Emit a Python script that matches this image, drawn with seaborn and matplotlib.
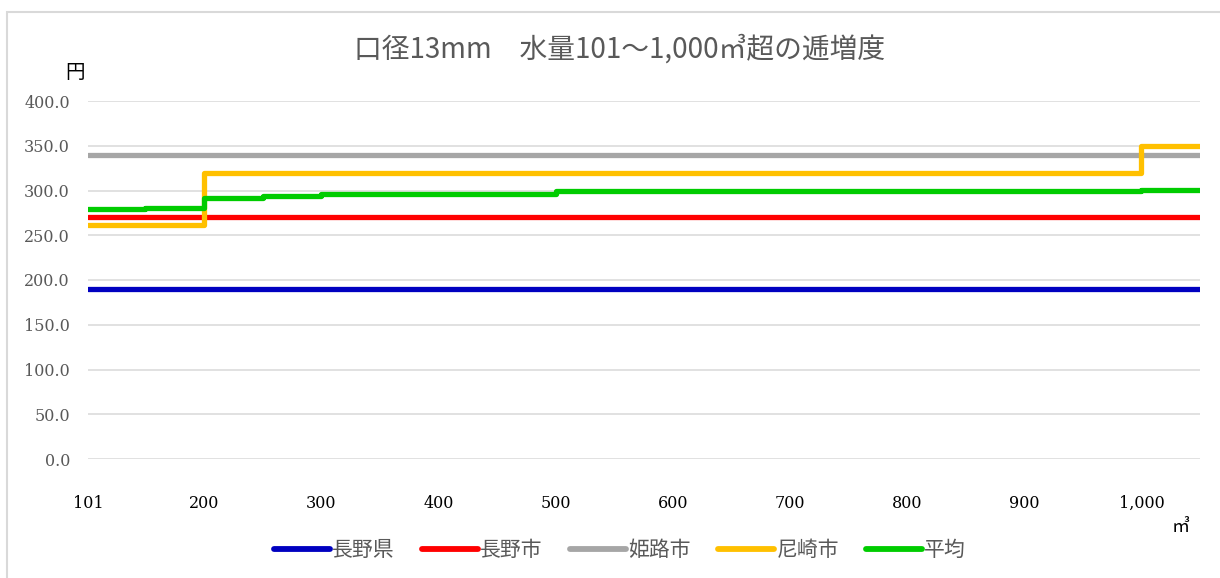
import matplotlib
matplotlib.use("Agg")
import matplotlib.pyplot as plt
from matplotlib.patches import Rectangle
from matplotlib.lines import Line2D
import seaborn as sns
import pandas as pd

# ---- data ----
series_names = ["長野県", "長野市", "姫路市", "尼崎市", "平均"]
x_nagano_ken = [101, 1050]
y_nagano_ken = [190.0, 190.0]
x_nagano_shi = [101, 1050]
y_nagano_shi = [270.0, 270.0]
x_himeji = [101, 1050]
y_himeji = [340.0, 340.0]
x_amagasaki = [101, 200, 1000, 1050]
y_amagasaki = [261.0, 319.0, 350.0, 350.0]
x_average = [101, 150, 200, 250, 300, 500, 1000, 1050]
y_average = [279.3, 281.0, 291.3, 293.8, 296.5, 299.4, 300.2, 300.2]
colors = ["#0000C0", "#FF0000", "#A6A6A6", "#FFC000", "#00CC00"]
x_ticks = [101, 200, 300, 400, 500, 600, 700, 800, 900, 1000]
x_tick_labels = ["101", "200", "300", "400", "500", "600", "700", "800", "900", "1,000"]
y_ticks = [0, 50, 100, 150, 200, 250, 300, 350, 400]
title = "口径13mm　水量101～1,000㎥超の逓増度"

xs = [x_nagano_ken, x_nagano_shi, x_himeji, x_amagasaki, x_average]
ys = [y_nagano_ken, y_nagano_shi, y_himeji, y_amagasaki, y_average]
frames = []
for name, xv, yv in zip(series_names, xs, ys):
    frames.append(pd.DataFrame({"x": xv, "y": yv, "series": name}))
df = pd.concat(frames, ignore_index=True)

sns.set_theme(style="white")
plt.rcParams["font.family"] = ["Noto Sans CJK JP", "DejaVu Sans"]

W, H = 1220, 578
fig = plt.figure(figsize=(W / 100, H / 100), dpi=100)
fig.patch.set_facecolor("white")
ax = fig.add_axes([88 / W, 1 - 459 / H, (1200 - 88) / W, (459 - 101) / H])

palette = dict(zip(series_names, colors))
sns.lineplot(data=df, x="x", y="y", hue="series", hue_order=series_names,
             palette=palette, drawstyle="steps-post", linewidth=3.8,
             solid_capstyle="round", solid_joinstyle="round",
             estimator=None, ax=ax, legend=False)

ax.set_xlim(101, 1050)
ax.set_ylim(0, 400)
ax.set_yticks(y_ticks)
ax.set_yticklabels([f"{v:.1f}" for v in y_ticks], family="DejaVu Serif",
                   fontsize=11.5, color="#595959")
ax.set_xticks(x_ticks)
ax.set_xticklabels(x_tick_labels, family="DejaVu Serif", fontsize=11.5,
                   color="#000000")
ax.tick_params(axis="y", length=0, pad=13)
ax.tick_params(axis="x", length=0, pad=26)
ax.grid(axis="y", color="#D9D9D9", linewidth=1.1)
ax.grid(axis="x", visible=False)
for s in ax.spines.values():
    s.set_visible(False)
ax.set_xlabel("")
ax.set_ylabel("")

fig.text(620 / W, 1 - 50 / H, title, ha="center", va="center",
         fontsize=20, color="#595959")
fig.text(75 / W, 1 - 73 / H, "円", ha="center", va="center",
         fontsize=14, color="#000000")
fig.text(1181 / W, 1 - 527 / H, "㎥", ha="center", va="center",
         fontsize=13, color="#000000")

handles = [Line2D([0], [0], color=c, linewidth=4.2, solid_capstyle="round")
           for c in colors]
fig.legend(handles, series_names, loc="center", bbox_to_anchor=(620 / W, 1 - 550 / H),
           ncol=5, frameon=False, fontsize=15, handlelength=2.7,
           handletextpad=0.1, columnspacing=1.3, labelcolor="#595959")

fig.patches.append(Rectangle((7 / W, -0.1), 1.2, 1.1 - 12 / H + 0.0,
                             transform=fig.transFigure, fill=False,
                             edgecolor="#D9D9D9", linewidth=1.5, zorder=0))

fig.savefig("out.png", dpi=100, facecolor="white")
